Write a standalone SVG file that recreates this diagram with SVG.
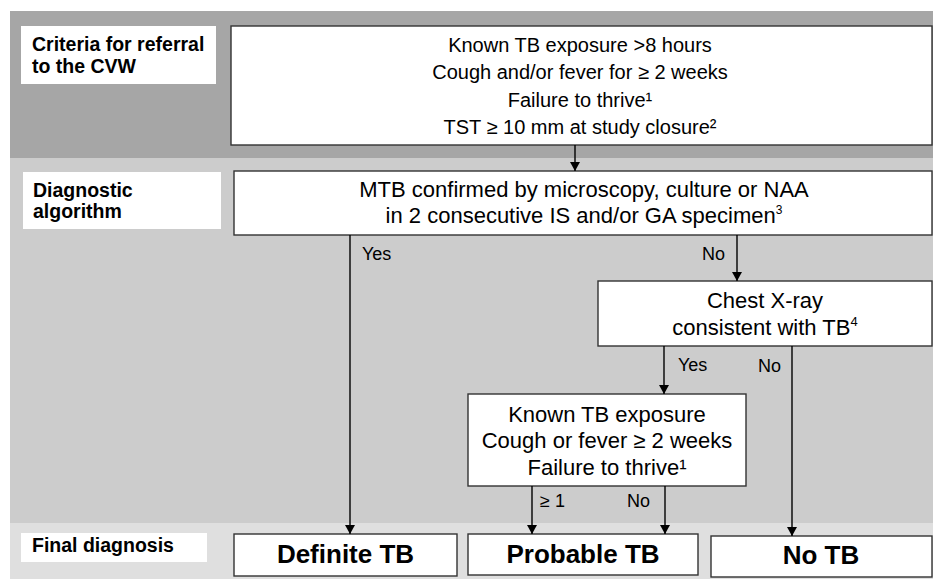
<svg xmlns="http://www.w3.org/2000/svg" width="933" height="579" viewBox="0 0 933 579">
<style>
.box{fill:#fff;stroke:#333;stroke-width:1.4}
.lab{fill:#fff}
.t{font-family:"Liberation Sans",Arial,sans-serif;fill:#000}
.top{font-size:20px;text-anchor:middle}
.mid{font-size:22px;text-anchor:middle}
.hd{font-size:19.5px;font-weight:bold}
.fin{font-size:26px;font-weight:bold;text-anchor:middle}
.el{font-size:18px}
.c{stroke:#000;stroke-width:1.4;fill:none;marker-end:url(#ah)}
</style>
<defs>
<marker id="ah" markerWidth="9" markerHeight="10" refX="9" refY="5" orient="auto" markerUnits="userSpaceOnUse">
<path d="M0,0 L9,5 L0,10 Z" fill="#000"/>
</marker>
</defs>
<g id="bands">
<rect x="10" y="11" width="923" height="147" fill="#a6a6a6"/>
<rect x="10" y="158" width="923" height="365" fill="#cccccc"/>
<rect x="10" y="523" width="923" height="56" fill="#dfdfdf"/>
</g>
<g id="label-criteria">
<rect class="lab" x="21" y="26" width="195" height="58"/>
<text class="t hd" x="32" y="51">Criteria for referral</text>
<text class="t hd" x="32" y="73">to the CVW</text>
</g>
<g id="label-diagnostic">
<rect class="lab" x="23" y="172" width="198" height="57"/>
<text class="t hd" x="33" y="197">Diagnostic</text>
<text class="t hd" x="33" y="218">algorithm</text>
</g>
<g id="label-final">
<rect class="lab" x="21" y="533" width="186" height="29"/>
<text class="t hd" x="32" y="552">Final diagnosis</text>
</g>
<g id="node-criteria">
<rect class="box" x="231" y="26" width="701" height="119"/>
<text class="t top" x="580" y="52">Known TB exposure &gt;8 hours</text>
<text class="t top" x="580" y="79">Cough and/or fever for ≥ 2 weeks</text>
<text class="t top" x="580" y="107">Failure to thrive¹</text>
<text class="t top" x="580" y="134">TST ≥ 10 mm at study closure²</text>
</g>
<g id="node-mtb">
<rect class="box" x="234" y="171" width="698" height="64"/>
<text class="t mid" x="584" y="197">MTB confirmed by microscopy, culture or NAA</text>
<text class="t mid" x="584" y="223">in 2 consecutive IS and/or GA specimen<tspan font-size="12" dy="-9">3</tspan></text>
</g>
<g id="node-chest">
<rect class="box" x="598" y="281" width="334" height="65"/>
<text class="t mid" x="765" y="308">Chest X-ray</text>
<text class="t mid" x="765" y="335">consistent with TB<tspan font-size="13" dy="-9">4</tspan></text>
</g>
<g id="node-known">
<rect class="box" x="468" y="394" width="278" height="92"/>
<text class="t mid" x="607" y="422">Known TB exposure</text>
<text class="t mid" x="607" y="448">Cough or fever ≥ 2 weeks</text>
<text class="t mid" x="607" y="475">Failure to thrive¹</text>
</g>
<g id="node-definite">
<rect class="box" x="234" y="534" width="223" height="42"/>
<text class="t fin" x="345.5" y="563">Definite TB</text>
</g>
<g id="node-probable">
<rect class="box" x="468" y="534" width="230" height="41"/>
<text class="t fin" x="583" y="563">Probable TB</text>
</g>
<g id="node-notb">
<rect class="box" x="711" y="536" width="221" height="41"/>
<text class="t fin" x="821" y="564">No TB</text>
</g>
<g id="connectors">
<line class="c" x1="575" y1="145" x2="575" y2="171"/>
<line class="c" x1="350" y1="235" x2="350" y2="534"/>
<line class="c" x1="737" y1="235" x2="737" y2="281"/>
<line class="c" x1="664" y1="346" x2="664" y2="394"/>
<line class="c" x1="792" y1="346" x2="792" y2="536"/>
<line class="c" x1="532" y1="486" x2="532" y2="534"/>
<line class="c" x1="665" y1="486" x2="665" y2="534"/>
<text class="t el" x="362" y="260">Yes</text>
<text class="t el" x="702" y="260">No</text>
<text class="t el" x="678" y="371">Yes</text>
<text class="t el" x="758" y="372">No</text>
<text class="t el" x="540" y="507">≥ 1</text>
<text class="t el" x="627" y="507">No</text>
</g>
</svg>
